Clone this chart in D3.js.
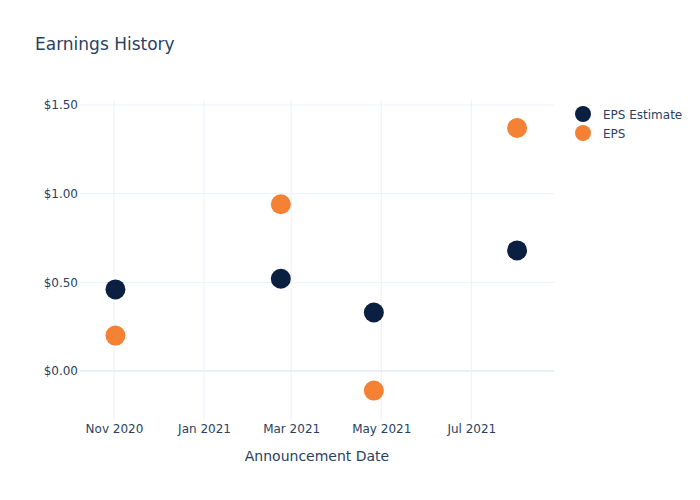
<!DOCTYPE html>
<html><head><meta charset="utf-8">
<script src="https://cdn.jsdelivr.net/npm/d3@7"></script>
<style>body{margin:0;background:#fff}svg{display:block;font-family:"DejaVu Sans",sans-serif}</style>
</head><body><svg id="c" width="700" height="500"></svg>
<script>
const dates = ["2020-11-02", "2021-02-22", "2021-04-26", "2021-08-01"];
const epsEstimate = [0.46, 0.52, 0.33, 0.68];
const eps = [0.20, 0.94, -0.11, 1.37];
const yTicks = [0, 0.5, 1.0, 1.5];
const xTicks = ["2020-11-01", "2021-01-01", "2021-03-01", "2021-05-01", "2021-07-01"];
const seriesNames = ["EPS Estimate", "EPS"];
const colors = ["#0b1f41", "#f58134"];

const FONT = '"DejaVu Sans",sans-serif';
const parse = d3.utcParse("%Y-%m-%d");
const svg = d3.select("#c");
const L = 80, R = 554, T = 100, B = 420;
const x = d3.scaleUtc().domain([parse("2020-10-09"), parse("2021-08-26")]).range([L, R]);
const y = d3.scaleLinear().domain([-0.276, 1.528]).range([B, T]);
const txt = "#2a3f5f", grid = "#ebf0f8";

// grid
svg.append("g").selectAll("line").data(xTicks).join("line")
  .attr("x1", d => x(parse(d))).attr("x2", d => x(parse(d)))
  .attr("y1", T).attr("y2", B).attr("stroke", grid).attr("stroke-width", 1);
svg.append("g").selectAll("line").data(yTicks).join("line")
  .attr("x1", L).attr("x2", R).attr("y1", d => y(d)).attr("y2", d => y(d))
  .attr("stroke", grid).attr("stroke-width", d => d === 0 ? 2 : 1);

const xAxis = d3.axisBottom(x).tickValues(xTicks.map(parse)).tickFormat(d3.utcFormat("%b %Y")).tickSize(0).tickPadding(4);
const gx = svg.append("g").attr("transform", `translate(0,${B})`).call(xAxis);
gx.select(".domain").remove();
gx.selectAll("text").attr("fill", txt).attr("font-size", 12).attr("font-family", FONT);

const yAxis = d3.axisLeft(y).tickValues(yTicks).tickFormat(d => "$" + d3.format(".2f")(d)).tickSize(0).tickPadding(2);
const gy = svg.append("g").attr("transform", `translate(${L},0)`).call(yAxis);
gy.select(".domain").remove();
gy.selectAll("text").attr("fill", txt).attr("font-size", 12).attr("font-family", FONT);

const series = [epsEstimate, eps];
series.forEach((vals, i) => {
  svg.append("g").selectAll("circle").data(vals).join("circle")
    .attr("cx", (d, j) => x(parse(dates[j]))).attr("cy", d => y(d))
    .attr("r", 10).attr("fill", colors[i]);
});

svg.append("text").attr("x", 35).attr("y", 50).attr("fill", txt).attr("font-size", 17).attr("font-family", FONT).text("Earnings History");
svg.append("text").attr("x", (L + R) / 2).attr("y", 461).attr("text-anchor", "middle").attr("fill", txt).attr("font-size", 14).attr("font-family", FONT).text("Announcement Date");

const lg = svg.append("g");
seriesNames.forEach((n, i) => {
  lg.append("circle").attr("cx", 583).attr("cy", 114 + i * 19).attr("r", 8).attr("fill", colors[i]);
  lg.append("text").attr("x", 603).attr("y", 118.5 + i * 19).attr("fill", txt).attr("font-size", 12).attr("font-family", FONT).text(n);
});
</script></body></html>
